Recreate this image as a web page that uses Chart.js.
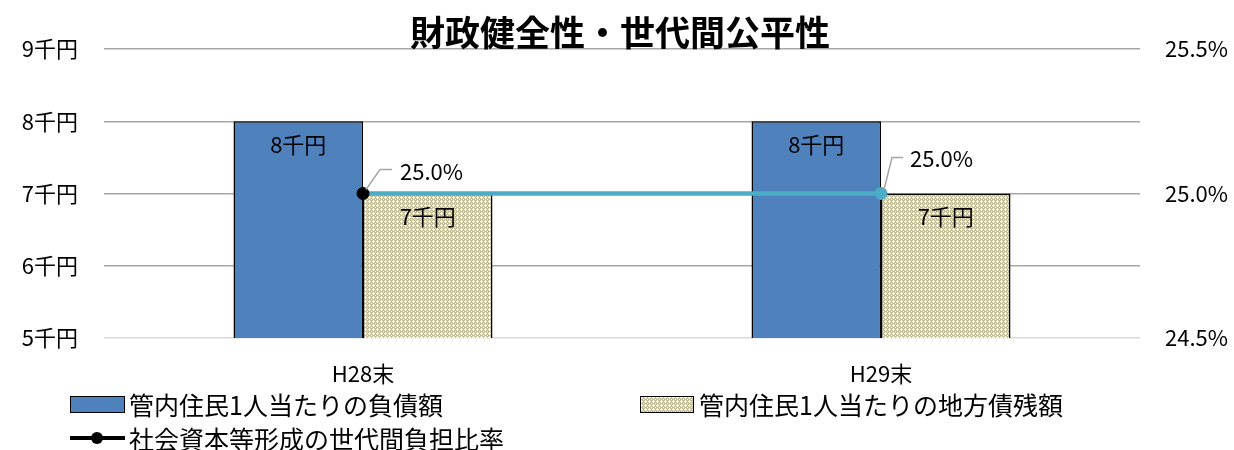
<!DOCTYPE html>
<html>
<head>
<meta charset="utf-8">
<script src="https://cdn.jsdelivr.net/npm/chart.js@4.4.1/dist/chart.umd.min.js"></script>
<style>
html,body{margin:0;padding:0;background:#fff;}
#wrap{width:1234px;height:450px;position:relative;}
</style>
</head>
<body>
<div id="wrap"><canvas id="c"></canvas></div>
<script>
// ---- data ----
const categories = ['H28末', 'H29末'];
const debtPerCapita = [8, 8];          // 千円
const localBondPerCapita = [7, 7];     // 千円
const burdenRatio = [25.0, 25.0];      // %
const leftTickValues = [5, 6, 7, 8, 9];
const rightTickValues = [24.5, 25.0, 25.5];
const seriesNames = ['管内住民1人当たりの負債額', '管内住民1人当たりの地方債残額', '社会資本等形成の世代間負担比率'];
const chartTitle = '財政健全性・世代間公平性';

const FONT = '"Noto Sans CJK JP", "Noto Sans", sans-serif';
const BLUE = '#4F81BD';
const TEAL = '#4BACC6';

// hatch pattern
function makePattern() {
  const t = document.createElement('canvas');
  t.width = 4; t.height = 4;
  const g = t.getContext('2d');
  g.fillStyle = '#C4BD97'; g.fillRect(0, 0, 4, 4);
  g.fillStyle = '#ffffff';
  [[1,0],[0,1],[1,1],[2,1],[1,2],[3,3]].forEach(p => g.fillRect(p[0], p[1], 1, 1));
  return g.createPattern(t, 'repeat');
}
const pattern = makePattern();

const labelOffsets = [{ ex: 17, ey: -24, lx: 29, tx: 37, ty: -22 }, { ex: 11, ey: -36, lx: 22, tx: 29, ty: -35 }];

const overlay = {
  id: 'overlay',
  afterDatasetsDraw(chart) {
    const ctx = chart.ctx;
    ctx.save();
    ctx.font = '22px ' + FONT;
    ctx.fillStyle = '#000';
    ctx.textBaseline = 'middle';
    ctx.textAlign = 'center';
    // bar labels
    [0, 1].forEach(di => {
      const meta = chart.getDatasetMeta(di);
      meta.data.forEach((bar, i) => {
        const v = chart.data.datasets[di].data[i];
        ctx.fillText(v + '千円', bar.x, bar.y + 23);
      });
    });
    // line labels with leader lines
    const lm = chart.getDatasetMeta(2);
    lm.data.forEach((pt, i) => {
      const o = labelOffsets[i];
      ctx.strokeStyle = '#A6A6A6';
      ctx.lineWidth = 1.5;
      ctx.beginPath();
      ctx.moveTo(pt.x + 3, pt.y - 4);
      ctx.lineTo(pt.x + o.ex, pt.y + o.ey);
      ctx.lineTo(pt.x + o.lx, pt.y + o.ey);
      ctx.stroke();
      ctx.textAlign = 'left';
      ctx.fillText(burdenRatio[i].toFixed(1) + '%', pt.x + o.tx, pt.y + o.ty);
    });
    ctx.restore();
  },
  afterDraw(chart) {
    const ctx = chart.ctx;
    ctx.save();
    // title
    ctx.font = 'bold 35px ' + FONT;
    ctx.fillStyle = '#000';
    ctx.textAlign = 'center';
    ctx.textBaseline = 'middle';
    ctx.fillText(chartTitle, 620, 33);
    // legend
    ctx.font = '25px ' + FONT;
    ctx.textAlign = 'left';
    // item 1
    ctx.fillStyle = BLUE;
    ctx.fillRect(70, 396, 55, 17);
    ctx.strokeStyle = '#000'; ctx.lineWidth = 1;
    ctx.strokeRect(70.5, 396.5, 54, 16);
    ctx.fillStyle = '#000';
    ctx.fillText(seriesNames[0], 129, 405);
    // item 2
    ctx.fillStyle = pattern;
    ctx.fillRect(640, 396, 54, 17);
    ctx.strokeStyle = '#000';
    ctx.strokeRect(640.5, 396.5, 53, 16);
    ctx.fillStyle = '#000';
    ctx.fillText(seriesNames[1], 699, 405);
    // item 3
    ctx.strokeStyle = '#000'; ctx.lineWidth = 4;
    ctx.beginPath(); ctx.moveTo(70, 438); ctx.lineTo(125, 438); ctx.stroke();
    ctx.beginPath(); ctx.arc(97, 438, 6, 0, Math.PI * 2); ctx.fillStyle = '#000'; ctx.fill();
    ctx.fillText(seriesNames[2], 129, 439);
    ctx.restore();
  }
};

new Chart(document.getElementById('c'), {
  data: {
    labels: categories,
    datasets: [
      { type: 'bar', label: seriesNames[0], data: debtPerCapita, backgroundColor: BLUE, borderColor: '#000', borderWidth: 1.5, yAxisID: 'y', order: 2, categoryPercentage: 0.5, barPercentage: 1.0 },
      { type: 'bar', label: seriesNames[1], data: localBondPerCapita, backgroundColor: pattern, borderColor: '#000', borderWidth: 1.5, yAxisID: 'y', order: 2, categoryPercentage: 0.5, barPercentage: 1.0 },
      { type: 'line', label: seriesNames[2], data: burdenRatio, borderColor: TEAL, borderWidth: 4.5, yAxisID: 'y1', order: 0,
        pointRadius: 6, pointHoverRadius: 6, pointBackgroundColor: ['#000', TEAL], pointBorderColor: ['#000', TEAL], pointBorderWidth: 1, tension: 0 }
    ]
  },
  options: {
    responsive: true,
    maintainAspectRatio: false,
    animation: false,
    layout: { padding: { top: 49, left: 0, right: 0, bottom: 0 } },
    plugins: { legend: { display: false }, title: { display: false }, tooltip: { enabled: false } },
    scales: {
      x: {
        grid: { display: false, drawTicks: false },
        border: { display: false },
        ticks: { font: { family: FONT, size: 22 }, color: '#000', padding: 22 },
        afterFit(s) { s.height = 112; }
      },
      y: {
        position: 'left', min: 5, max: 9,
        afterBuildTicks(s) { s.ticks = leftTickValues.map(v => ({ value: v })); },
        ticks: { font: { family: FONT, size: 22 }, color: '#000', padding: 26, callback: v => v + '千円' },
        grid: { color: c => c.tick && c.tick.value === 5 ? '#D9D9D9' : '#A6A6A6', lineWidth: 1.5, drawTicks: false },
        border: { display: false },
        afterFit(s) { s.width = 104; }
      },
      y1: {
        position: 'right', min: 24.5, max: 25.5,
        afterBuildTicks(s) { s.ticks = rightTickValues.map(v => ({ value: v })); },
        ticks: { font: { family: FONT, size: 22 }, color: '#000', padding: 25, callback: v => v.toFixed(1) + '%' },
        grid: { display: false, drawTicks: false },
        border: { display: false },
        afterFit(s) { s.width = 94; }
      }
    }
  },
  plugins: [overlay]
});
</script>
</body>
</html>
